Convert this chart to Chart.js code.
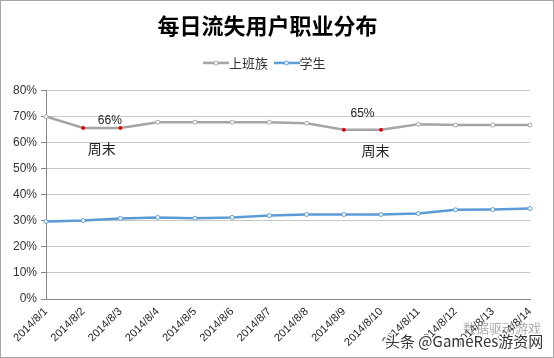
<!DOCTYPE html>
<html><head><meta charset="utf-8">
<script src="https://cdn.jsdelivr.net/npm/chart.js@4.4.1/dist/chart.umd.min.js"></script>
<style>
html,body{margin:0;padding:0;background:#fff;}
#wrap{position:relative;width:554px;height:358px;box-sizing:border-box;border:1px solid #a6a6a6;}
canvas{display:block;}
</style></head><body>
<div id="wrap"><canvas id="c" width="552" height="356"></canvas></div>
<script>
const categories = ['2014/8/1','2014/8/2','2014/8/3','2014/8/4','2014/8/5','2014/8/6','2014/8/7','2014/8/8','2014/8/9','2014/8/10','2014/8/11','2014/8/12','2014/8/13','2014/8/14'];
const officeWorkers = [70.0,65.6,65.6,67.8,67.8,67.8,67.8,67.4,64.9,64.9,67.0,66.7,66.7,66.7];
const students = [29.7,30.1,30.9,31.3,31.0,31.3,32.0,32.4,32.4,32.4,32.8,34.2,34.3,34.7];
const weekendIdx = [1,2,8,9];
const yTicks = [0,10,20,30,40,50,60,70,80];
const titleText = '每日流失用户职业分布';
const seriesNames = ['上班族','学生'];
const annotations = [
  {text:'66%', idx:1.5, value:68.5},
  {text:'周末', idx:1.5, value:57.5},
  {text:'65%', idx:8.5, value:71.0},
  {text:'周末', idx:8.85, value:57.0}
];

const FONT = "'Liberation Sans','Noto Sans CJK SC',sans-serif";
const CJK = "'Noto Sans CJK SC','Liberation Sans',sans-serif";

function legendIcon(color){
  const c=document.createElement('canvas');c.width=26;c.height=8;
  const g=c.getContext('2d');
  g.strokeStyle=color;g.lineWidth=2.5;g.beginPath();g.moveTo(0,4);g.lineTo(26,4);g.stroke();
  g.fillStyle='#fff';g.lineWidth=1;g.beginPath();g.arc(13,4,2,0,Math.PI*2);g.fill();g.stroke();
  return c;
}
const grayColor='#a5a5a5', blueColor='#5b9bd5';

const annPlugin={id:'ann',
beforeInit(chart){
  const lg=chart.legend;
  if(lg && !lg._patched){const orig=lg.fit;lg.fit=function(){orig.call(this);this.height+=11;};lg._patched=true;}
},
afterDatasetsDraw(chart){
  const {ctx,scales:{x,y}}=chart;
  ctx.save();ctx.fillStyle='#222';ctx.textAlign='center';ctx.textBaseline='middle';
  annotations.forEach(a=>{
    const px=x.getPixelForValue(Math.floor(a.idx))+(a.idx%1)*(x.getPixelForValue(1)-x.getPixelForValue(0));
    ctx.font=(a.text.includes('%')?'12px ':'14px ')+(a.text.includes('%')?FONT:CJK);
    ctx.fillText(a.text,px+ (a.text==='66%'?8:0),y.getPixelForValue(a.value));
  });
  // watermark
  ctx.font="13px "+CJK;ctx.textAlign='left';
  ctx.fillStyle='rgba(150,150,150,0.8)';
  ctx.fillText('数据驱动游戏',462,327);
  ctx.lineWidth=3;ctx.strokeStyle='rgba(255,255,255,0.9)';
  ctx.font="15px "+CJK;
  ctx.strokeText('头条 @GameRes游资网',384,340);
  ctx.fillStyle='#333';
  ctx.fillText('头条 @GameRes游资网',384,340);
  ctx.restore();
}};

new Chart(document.getElementById('c'),{
  type:'line',
  data:{labels:categories,datasets:[
    {label:seriesNames[0],data:officeWorkers,borderColor:grayColor,borderWidth:2.5,tension:0,
     pointRadius:officeWorkers.map((v,i)=>weekendIdx.includes(i)?1.5:2),
     pointBackgroundColor:officeWorkers.map((v,i)=>weekendIdx.includes(i)?'#e00000':'#fff'),
     pointBorderColor:officeWorkers.map((v,i)=>weekendIdx.includes(i)?'#e00000':grayColor),
     pointBorderWidth:1},
    {label:seriesNames[1],data:students,borderColor:blueColor,borderWidth:2.5,tension:0,
     pointRadius:2,pointBackgroundColor:'#fff',pointBorderColor:blueColor,pointBorderWidth:1}
  ]},
  options:{
    responsive:false,animation:false,
    layout:{padding:{top:11,right:23,left:4,bottom:0}},
    plugins:{
      title:{display:true,text:titleText,color:'#000',font:{family:CJK,size:22,weight:'bold'},padding:{top:0,bottom:6}},
      legend:{display:true,position:'top',labels:{usePointStyle:true,color:'#333',font:{family:CJK,size:13},boxWidth:26,padding:12,
        generateLabels(chart){return chart.data.datasets.map((d,i)=>({text:d.label,pointStyle:legendIcon(d.borderColor),fontColor:'#333',datasetIndex:i,lineWidth:0,strokeStyle:'transparent',fillStyle:'transparent'}));}}},
      tooltip:{enabled:false}
    },
    scales:{
      x:{offset:false,grid:{display:false,drawOnChartArea:false,tickLength:5,color:'#868686'},
         border:{color:'#868686',width:1},
         ticks:{color:'#222',font:{family:FONT,size:11},maxRotation:45,minRotation:45,autoSkip:false,padding:1},
         afterFit(s){s.height=58;}},
      y:{min:0,max:80,
         afterBuildTicks(s){s.ticks=yTicks.map(v=>({value:v}));},
         grid:{color:'#c8c8c8',tickLength:5,tickColor:'#868686'},
         border:{color:'#868686',width:1},
         ticks:{color:'#333',font:{family:FONT,size:12},callback:v=>v+'%',padding:4},
         afterFit(s){s.width=41;}}
    }
  },
  plugins:[annPlugin]
});
</script></body></html>
